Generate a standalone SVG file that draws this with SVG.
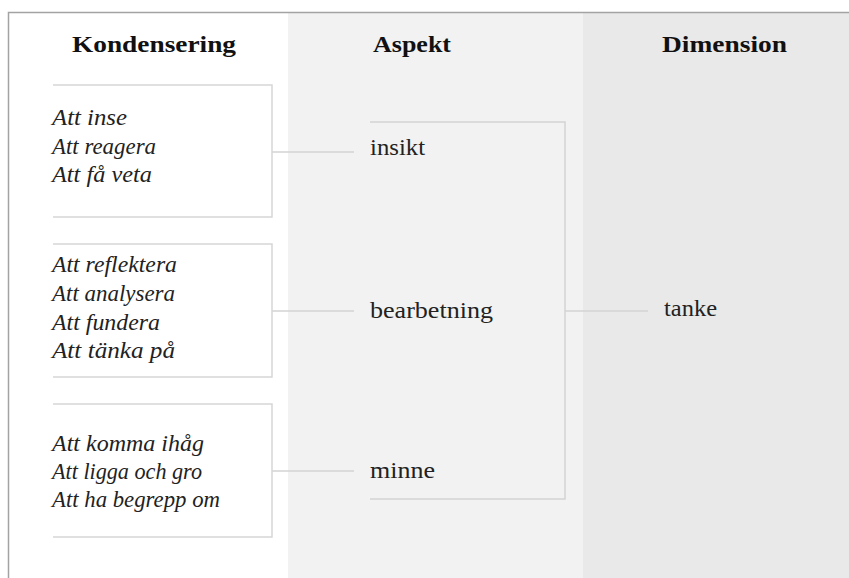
<svg xmlns="http://www.w3.org/2000/svg" width="849" height="578" viewBox="0 0 849 578">
<style>
.h{font-weight:700;font-size:23px;fill:#111}
.it{font-style:italic;font-size:23px;fill:#222}
.r{font-size:24px;fill:#222}
.box{fill:none;stroke:#d6d6d6;stroke-width:1.5}
.c{fill:none;stroke:#d3d3d3;stroke-width:1.5}
</style>
<rect x="0" y="0" width="849" height="578" fill="#ffffff"/>
<rect x="288" y="12" width="295" height="566" fill="#f2f2f2"/>
<rect x="583" y="12" width="266" height="566" fill="#e9e9e9"/>
<path d="M8.5,578 V12.5 H849" fill="none" stroke="#a3a3a3" stroke-width="1.5"/>
<g font-family="Liberation Serif, serif">
<g id="headings">
<text class="h" x="72" y="52" textLength="164" lengthAdjust="spacingAndGlyphs">Kondensering</text>
<text class="h" x="373" y="52" textLength="78" lengthAdjust="spacingAndGlyphs">Aspekt</text>
<text class="h" x="662" y="52" textLength="125" lengthAdjust="spacingAndGlyphs">Dimension</text>
</g>
<g id="connectors">
<path class="c" d="M272,152 H354"/>
<path class="c" d="M272,311 H354"/>
<path class="c" d="M272,471 H354"/>
<path class="c" d="M370,122 H565 V499 H370"/>
<path class="c" d="M565,311 H648"/>
</g>
<g id="box1">
<path class="box" d="M53,85 H272 V217 H53"/>
<text class="it" x="52" y="125" textLength="75" lengthAdjust="spacingAndGlyphs">Att inse</text>
<text class="it" x="52" y="154" textLength="104" lengthAdjust="spacingAndGlyphs">Att reagera</text>
<text class="it" x="52" y="182" textLength="100" lengthAdjust="spacingAndGlyphs">Att få veta</text>
</g>
<g id="box2">
<path class="box" d="M53,244 H272 V377 H53"/>
<text class="it" x="52" y="272" textLength="125" lengthAdjust="spacingAndGlyphs">Att reflektera</text>
<text class="it" x="52" y="301" textLength="123" lengthAdjust="spacingAndGlyphs">Att analysera</text>
<text class="it" x="52" y="330" textLength="108" lengthAdjust="spacingAndGlyphs">Att fundera</text>
<text class="it" x="52" y="358" textLength="123" lengthAdjust="spacingAndGlyphs">Att tänka på</text>
</g>
<g id="box3">
<path class="box" d="M53,404 H272 V537 H53"/>
<text class="it" x="52" y="451" textLength="152" lengthAdjust="spacingAndGlyphs">Att komma ihåg</text>
<text class="it" x="52" y="479" textLength="150" lengthAdjust="spacingAndGlyphs">Att ligga och gro</text>
<text class="it" x="52" y="507" textLength="168" lengthAdjust="spacingAndGlyphs">Att ha begrepp om</text>
</g>
<g id="insikt"><text class="r" x="370" y="155" textLength="55" lengthAdjust="spacingAndGlyphs">insikt</text></g>
<g id="bearbetning"><text class="r" x="370" y="318" textLength="123" lengthAdjust="spacingAndGlyphs">bearbetning</text></g>
<g id="minne"><text class="r" x="370" y="478" textLength="65" lengthAdjust="spacingAndGlyphs">minne</text></g>
<g id="tanke"><text class="r" x="664" y="316" textLength="53" lengthAdjust="spacingAndGlyphs">tanke</text></g>
</g>
</svg>
